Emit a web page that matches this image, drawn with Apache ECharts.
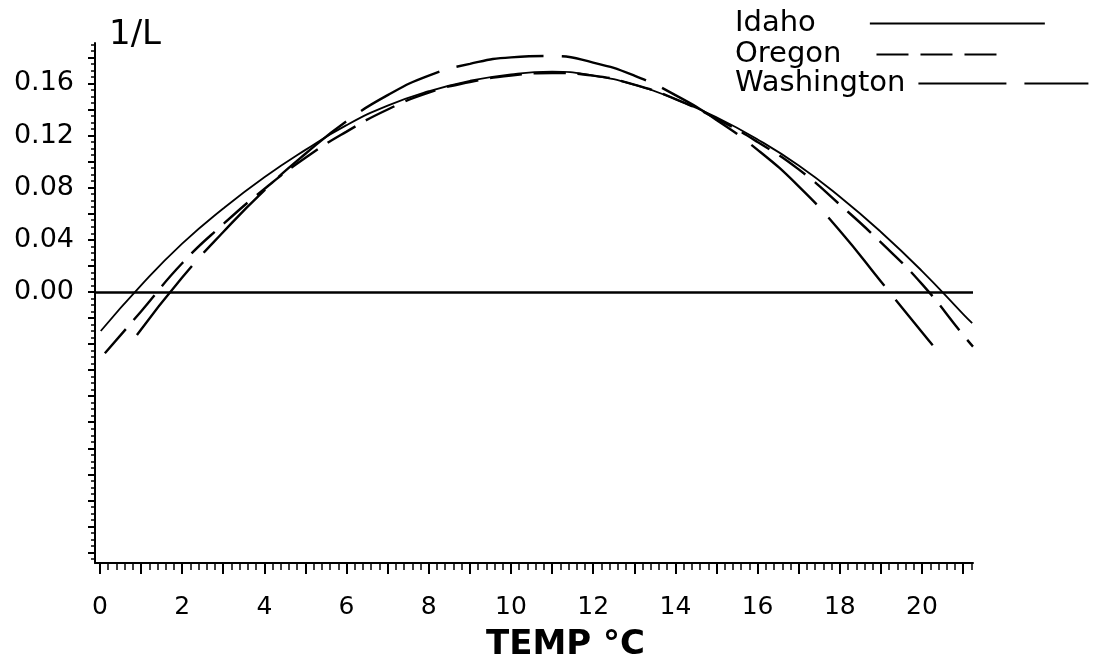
<!DOCTYPE html>
<html><head><meta charset="utf-8">
<script src="https://cdn.jsdelivr.net/npm/echarts@6/dist/echarts.min.js"></script>
<style>html,body{margin:0;padding:0;background:#fff}#c{width:1093px;height:667px}</style>
</head><body><div id="c"></div>
<script>
// ---- data ----
const idahoT = [0.02,1,2,3,4,5,6,7,8,9,10,11,12,13,14,15,16,17,18,19,20,21,21.22];
const idahoV = [-0.030,0.005,0.037,0.064,0.088,0.109,0.128,0.143,0.154,0.162,0.167,0.169,0.166,0.159,0.148,0.134,0.117,0.097,0.073,0.046,0.016,-0.017,-0.024];
const oregonT = [0.12,1,2,3,4,5,6,7,8,9,10,11,12,13,14,15,16,17,18,19,20,21,21.24];
const oregonV = [-0.047,-0.015,0.022,0.052,0.079,0.103,0.123,0.140,0.153,0.161,0.166,0.168,0.166,0.159,0.148,0.133,0.115,0.094,0.067,0.038,0.006,-0.033,-0.042];
const washT = [0.9,2,3,4,5,6,7,8,9,10,11,12,13,14,15,16,17,18,19,20,20.26];
const washV = [-0.033,0.011,0.046,0.078,0.106,0.131,0.151,0.166,0.175,0.180,0.181,0.176,0.166,0.151,0.132,0.109,0.081,0.047,0.008,-0.031,-0.041];
const seriesNames = ['Idaho','Oregon','Washington'];
const xLabelValues = [0,2,4,6,8,10,12,14,16,18,20];
const yLabelValues = [0,0.04,0.08,0.12,0.16];
const xMin = -0.12, xMax = 21.24, yMin = -0.208, yMax = 0.191;

// tick positions
const xMajor = []; for (let i = 0; i <= 21; i++) xMajor.push(i);
const xMinor = []; for (let i = 0; i <= 106; i++) { if (i % 5) xMinor.push(+(i*0.2).toFixed(2)); }
const yMajor = []; for (let i = -10; i <= 9; i++) yMajor.push(+(i*0.02).toFixed(3));
const yMinor = []; for (let i = -41; i <= 38; i++) { if (i % 4) yMinor.push(+(i*0.005).toFixed(4)); }

const zip = (t, v) => t.map((x, i) => [x, v[i]]);
const FONT = 'DejaVu Sans';
const black = '#000';

const chart = echarts.init(document.getElementById('c'), null, {renderer: 'canvas'});
const legendBase = {
  orient: 'horizontal', align: 'right', padding: 0, selectedMode: false,
  itemHeight: 14, left: 735,
  itemStyle: {opacity: 0},
  textStyle: {fontFamily: FONT, fontSize: 29, color: black}
};
chart.setOption({
  animation: false,
  backgroundColor: '#fff',
  title: [
    {text: '1/L', left: 109, top: 18, padding: 0,
     textStyle: {fontFamily: FONT, fontSize: 34, fontWeight: 'normal', color: black}},
    {text: 'TEMP °C', left: 486, top: 628, padding: 0,
     textStyle: {fontFamily: FONT, fontSize: 34, fontWeight: 'bold', color: black}}
  ],
  legend: [
    Object.assign({}, legendBase, {data: ['Idaho'], top: 9, itemWidth: 175,
      textStyle: Object.assign({}, legendBase.textStyle, {padding: [0, 49, 0, 0]})}),
    Object.assign({}, legendBase, {data: ['Oregon'], top: 40, itemWidth: 122,
      textStyle: Object.assign({}, legendBase.textStyle, {padding: [0, 30, 0, 0]})}),
    Object.assign({}, legendBase, {data: ['Washington'], top: 69, itemWidth: 170,
      textStyle: Object.assign({}, legendBase.textStyle, {padding: [0, 8, 0, 0]})})
  ],
  grid: {left: 95, top: 43, right: 120, bottom: 104, containLabel: false},
  xAxis: [
    {type: 'value', min: xMin, max: xMax, position: 'bottom',
     axisLine: {show: true, onZero: false, lineStyle: {color: black, width: 2}},
     axisTick: {show: true, customValues: xMajor, length: 11, lineStyle: {color: black, width: 2}},
     axisLabel: {show: true, customValues: xLabelValues, margin: 32, fontFamily: FONT, fontSize: 25, color: black},
     splitLine: {show: false}},
    {type: 'value', min: xMin, max: xMax, position: 'bottom',
     axisLine: {show: false, onZero: false},
     axisTick: {show: true, customValues: xMinor, length: 7, lineStyle: {color: black, width: 1.5}},
     axisLabel: {show: false}, splitLine: {show: false}}
  ],
  yAxis: [
    {type: 'value', min: yMin, max: yMax, position: 'left',
     axisLine: {show: true, onZero: false, lineStyle: {color: black, width: 2}},
     axisTick: {show: true, customValues: yMajor, length: 7, lineStyle: {color: black, width: 2}},
     axisLabel: {show: true, customValues: yLabelValues, margin: 21, fontFamily: FONT, fontSize: 27, color: black,
       formatter: v => v.toFixed(2)},
     splitLine: {show: false}},
    {type: 'value', min: yMin, max: yMax, position: 'left',
     axisLine: {show: false, onZero: false},
     axisTick: {show: true, customValues: yMinor, length: 4, lineStyle: {color: black, width: 1.5}},
     axisLabel: {show: false}, splitLine: {show: false}}
  ],
  series: [
    {name: seriesNames[0], type: 'line', data: zip(idahoT, idahoV), smooth: true, symbol: 'none',
     lineStyle: {color: black, width: 1.8, type: 'solid'}, itemStyle: {color: black},
     markLine: {silent: true, symbol: ['none','none'], label: {show: false},
       lineStyle: {color: black, width: 2.6, type: 'solid'}, data: [{yAxis: 0}]}},
    {name: seriesNames[1], type: 'line', data: zip(oregonT, oregonV), smooth: true, symbol: 'none',
     lineStyle: {color: black, width: 2.4, type: [32, 12]}, itemStyle: {color: black}},
    {name: seriesNames[2], type: 'line', data: zip(washT, washV), smooth: true, symbol: 'none',
     lineStyle: {color: black, width: 2.4, type: [88, 18]}, itemStyle: {color: black}}
  ]
});
</script></body></html>
